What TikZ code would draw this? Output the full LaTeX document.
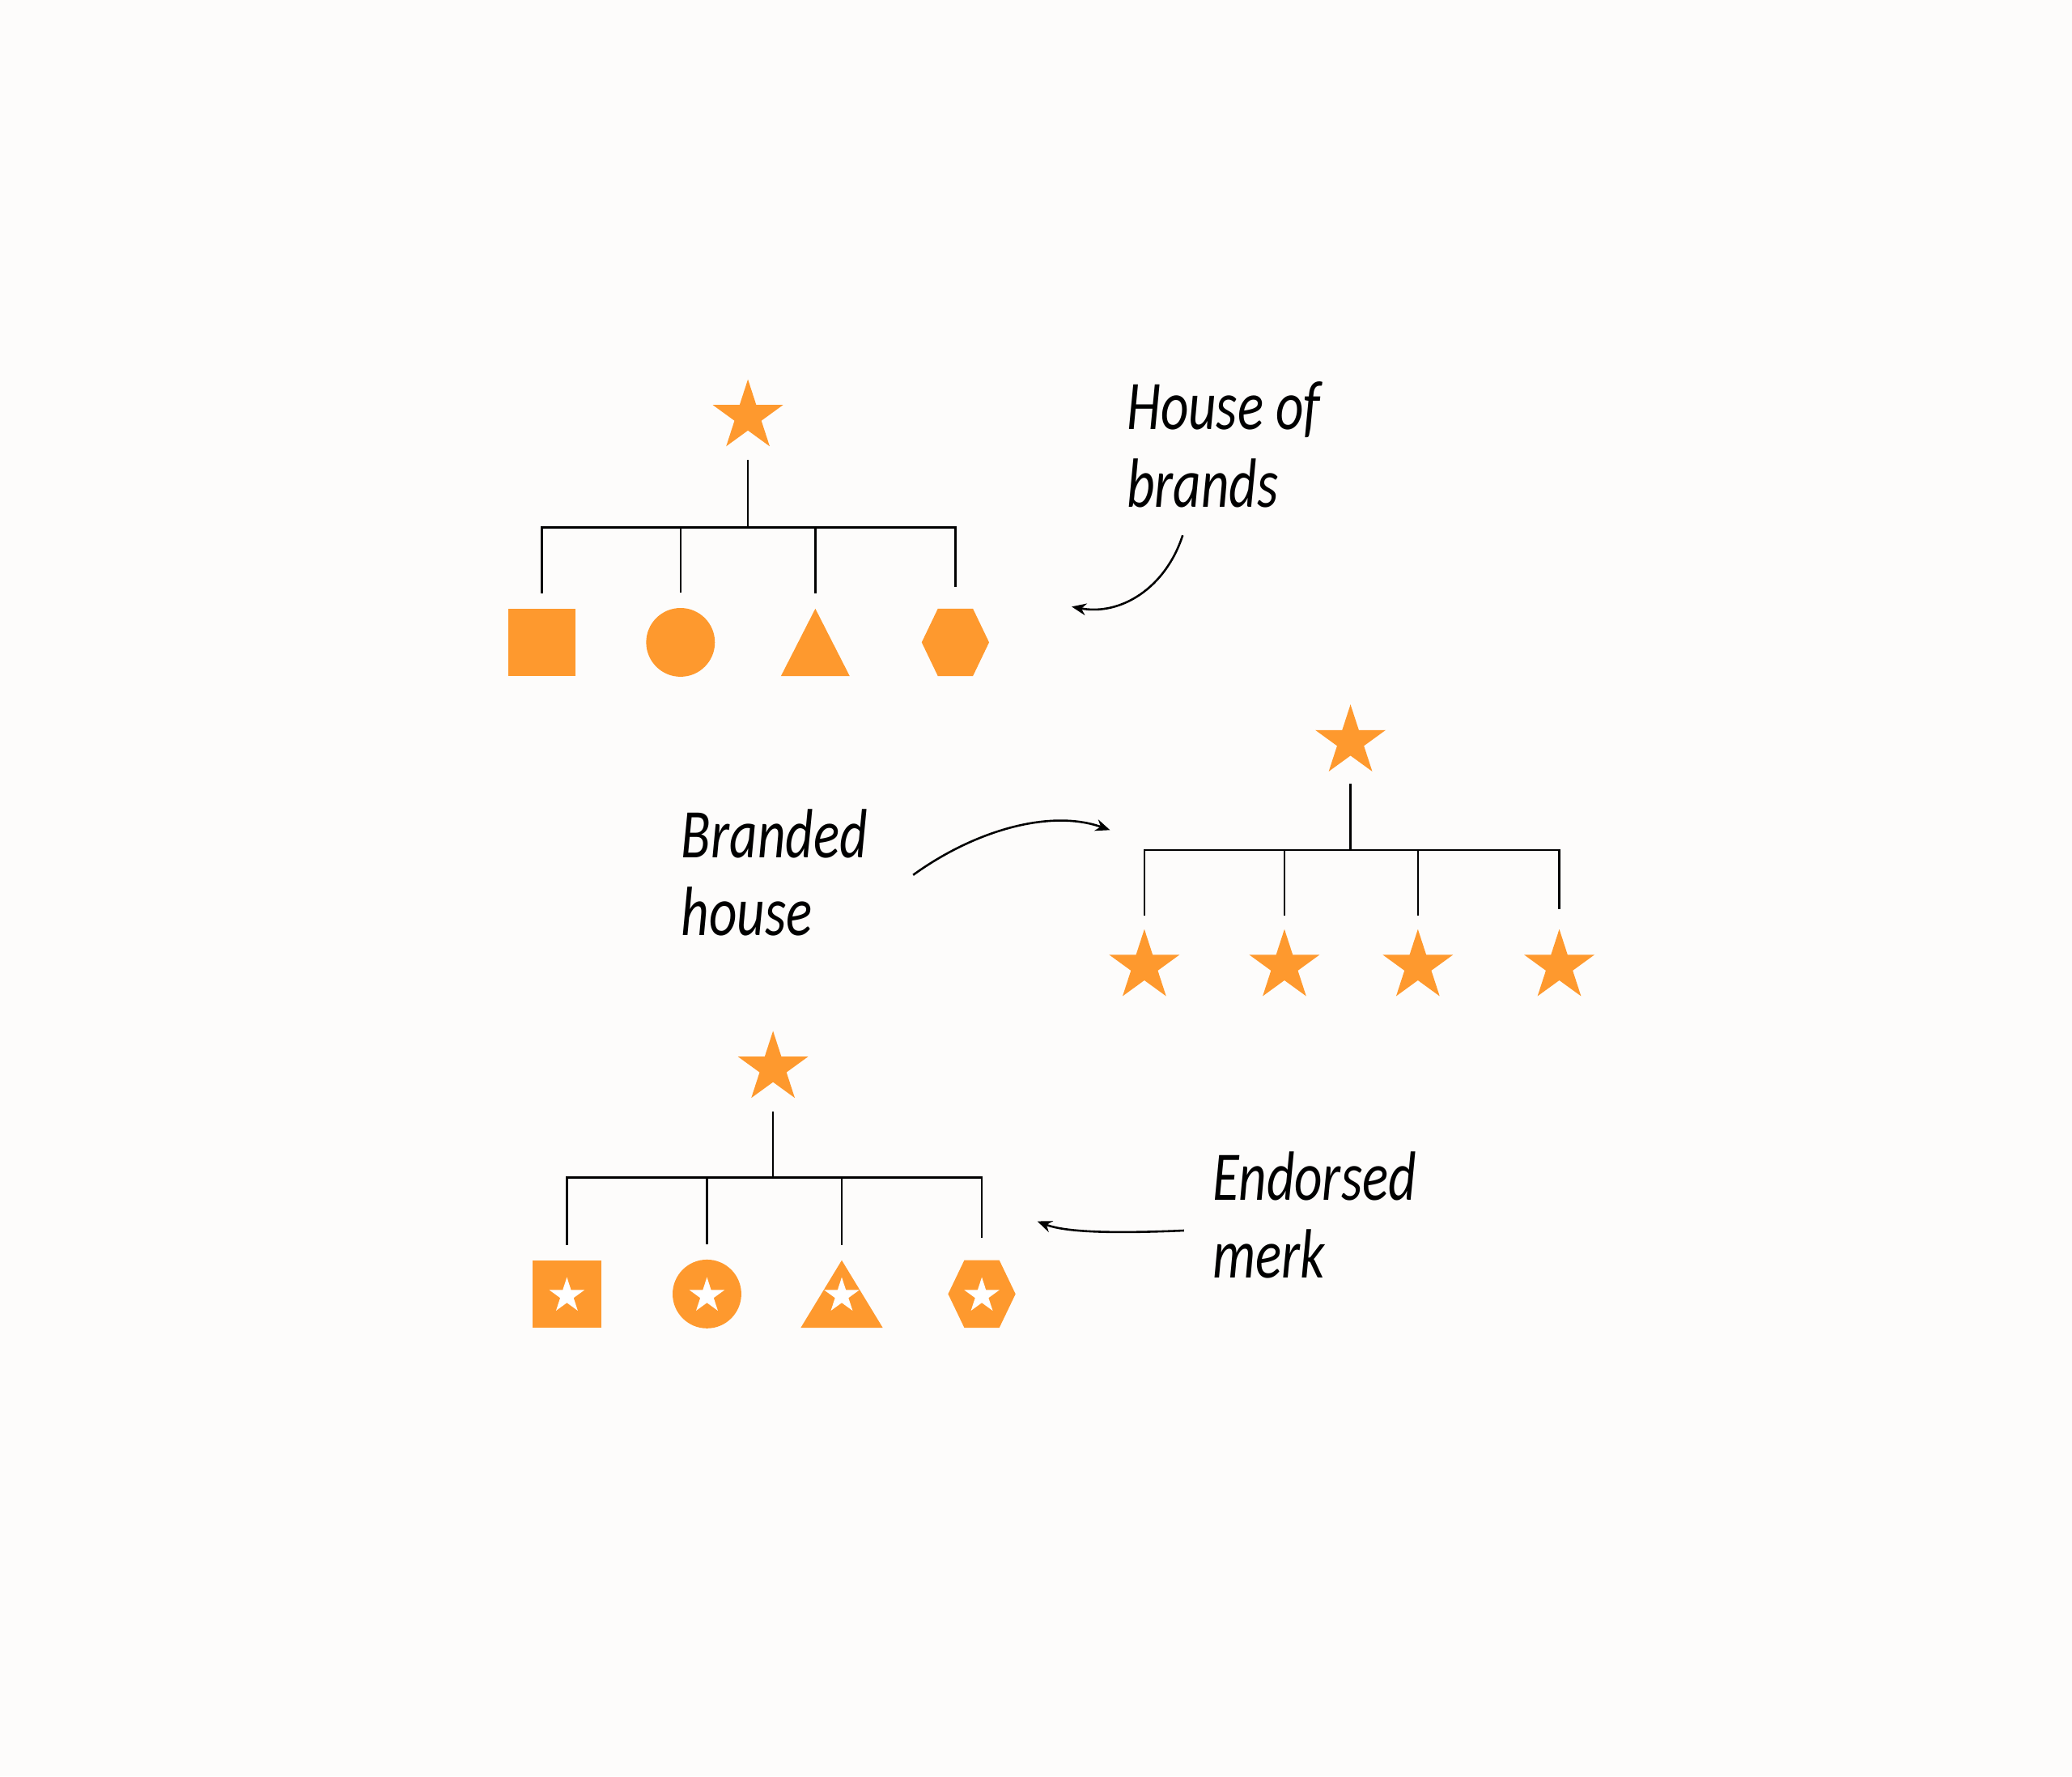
\documentclass[tikz,border=0pt]{standalone}
\usepackage{fontspec}
\usetikzlibrary{shapes.geometric, arrows.meta, positioning, calc}

\newfontfamily\handfont[FakeStretch=0.78]{Carlito}
\definecolor{brandorange}{RGB}{254,153,46}
\definecolor{paper}{RGB}{253,252,251}

\begin{document}
\begin{tikzpicture}[x=0.1mm, y=-0.1mm,
    brandstar/.style={star, star points=5, star point ratio=2.618, fill=brandorange, inner sep=0pt, minimum size=5.6mm},
    endstar/.style={brandstar, fill=white, minimum size=2.8mm},
    sqbox/.style={rectangle, fill=brandorange, inner sep=0pt, minimum width=5.1mm, minimum height=5.1mm},
    dot/.style={circle, fill=brandorange, inner sep=0pt, minimum size=5.2mm},
    tribox/.style={rectangle, inner sep=0pt, minimum width=5.2mm, minimum height=5.1mm,
        path picture={\fill[brandorange] (path picture bounding box.south west) -- (path picture bounding box.north)
            -- (path picture bounding box.south east) -- cycle;}},
    hexbox/.style={rectangle, inner sep=0pt, minimum width=5.1mm, minimum height=5.1mm,
        path picture={\fill[brandorange] (path picture bounding box.west)
            -- ($(path picture bounding box.north west)!0.24!(path picture bounding box.north east)$)
            -- ($(path picture bounding box.north west)!0.76!(path picture bounding box.north east)$)
            -- (path picture bounding box.east)
            -- ($(path picture bounding box.south west)!0.76!(path picture bounding box.south east)$)
            -- ($(path picture bounding box.south west)!0.24!(path picture bounding box.south east)$)
            -- cycle;}},
    tree/.style={draw=black, line width=0.45pt},
    note/.style={font=\handfont\itshape\fontsize{15}{16.8}\selectfont, align=left, inner sep=0pt, anchor=base west},
    pointer/.style={line width=0.45pt, -{Stealth[length=1.1mm, width=0.9mm]}}
  ]
  % page
  \fill[paper] (0,0) rectangle (1568,1344);

  % house of brands
  \node[brandstar] (hobroot) at (566,315) {};
  \coordinate (hobjoin) at (566,399);
  \node[sqbox] (hob1) at (410,486) {};
  \node[dot] (hob2) at (515,486) {};
  \node[tribox] (hob3) at (617,486) {};
  \node[hexbox] (hob4) at (723,486) {};
  \draw[tree, shorten <=3.3mm] (hobroot.center) -- (hobjoin);
  \foreach \i in {1,2,3} \draw[tree, shorten >=1.1mm] (hobjoin) -| (hob\i.north);
  \draw[tree, shorten >=1.6mm] (hobjoin) -| (hob4.north);

  % base anchor sits on the last line
  \node[note] (hoblabel) at (852,384) {House of\\brands};
  \coordinate (hobtail) at (895,405);
  \coordinate (hobtip) at (811,459);
  \draw[pointer] (hobtail) .. controls (882,445) and (848,466) .. (hobtip);

  % branded house
  \node[brandstar] (bhroot) at (1022,561) {};
  \coordinate (bhjoin) at (1022,643);
  \node[brandstar] (bh1) at (866,731) {};
  \node[brandstar] (bh2) at (972,731) {};
  \node[brandstar] (bh3) at (1073,731) {};
  \node[brandstar] (bh4) at (1180,731) {};
  \draw[tree, shorten <=3.2mm] (bhroot.center) -- (bhjoin);
  \foreach \i in {1,2,3} \draw[tree, shorten >=3.8mm] (bhjoin) -| (bh\i.center);
  \draw[tree, shorten >=4.3mm] (bhjoin) -| (bh4.center);

  \node[note] (bhlabel) at (515,708) {Branded\\house};
  \coordinate (bhtail) at (691,662);
  \coordinate (bhtip) at (840,628);
  \draw[pointer] (bhtail) .. controls (738,628) and (795,612) .. (bhtip);

  % endorsed
  \node[brandstar] (emroot) at (585,808) {};
  \coordinate (emjoin) at (585,891);
  \node[sqbox, minimum width=5.2mm] (em1) at (429,979) {};
  \node[dot] (em2) at (535,979) {};
  \node[tribox, minimum width=6.2mm] (em3) at (637,979) {};
  \node[hexbox] (em4) at (743,979) {};
  \foreach \i in {1,...,4} \node[endstar, yshift=-0.13mm] (emstar\i) at (em\i) {};
  \draw[tree, shorten <=3.3mm] (emroot.center) -- (emjoin);
  \foreach \i in {1,2,3} \draw[tree, shorten >=1.1mm] (emjoin) -| (em\i.north);
  \draw[tree, shorten >=1.6mm] (emjoin) -| (em4.north);

  \node[note] (emlabel) at (917,967) {Endorsed\\merk};
  \coordinate (emtail) at (896,931);
  \coordinate (emtip) at (785,924);
  \draw[pointer] (emtail) .. controls (850,933) and (808,933) .. (emtip);
\end{tikzpicture}
\end{document}
